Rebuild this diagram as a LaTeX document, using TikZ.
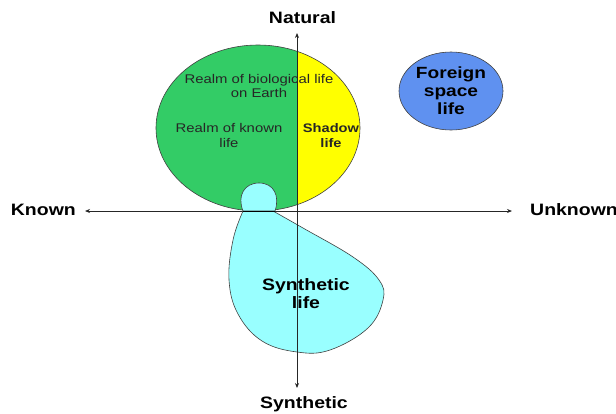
\documentclass[tikz,border=0pt]{standalone}
\usepackage{fontspec}
\setmainfont[FakeStretch=1.18]{Liberation Sans}
\usetikzlibrary{arrows.meta}
\definecolor{realmgreen}{RGB}{51,204,102}
\definecolor{shadowyellow}{RGB}{255,255,0}
\definecolor{synthcyan}{RGB}{153,255,255}
\definecolor{foreignblue}{RGB}{95,145,240}
\tikzset{
  axis/.style={draw=black!85, line width=0.8pt, -{Stealth[length=5pt,width=4pt]}},
  axislabel/.style={font=\bfseries\fontsize{16.5}{18}\selectfont, inner sep=0pt},
  realmtext/.style={font=\fontsize{12.6}{14.5}\selectfont, align=center, inner sep=0pt, text=black!85},
  bigtext/.style={font=\bfseries\fontsize{16.5}{18}\selectfont, align=center, inner sep=0pt},
  shape outline/.style={draw=black!75, line width=0.6pt}
}
\begin{document}
\begin{tikzpicture}[x=1pt,y=-1pt]
\useasboundingbox (0,0) rectangle (616,413);
% Big realm ellipse
\begin{scope}
  \clip (258,128) ellipse [x radius=102, y radius=83];
  \fill[realmgreen] (150,40) rectangle (297,220);
  \fill[shadowyellow] (297,40) rectangle (370,220);
\end{scope}
\draw[shape outline] (258,128) ellipse [x radius=102, y radius=83];
% Foreign space life
\filldraw[fill=foreignblue, shape outline] (451,91) ellipse [x radius=52, y radius=39];
\node[bigtext, font=\bfseries\fontsize{16.2}{18}\selectfont] (foreign) at (451,91) {Foreign\\space\\life};
% Horizontal axis
\coordinate (hl) at (85,211);
\coordinate (hr) at (512,211);
\coordinate (hc) at (297,211);
\draw[axis] (hc) -- (hl);
\draw[axis] (hc) -- (hr);
% Synthetic blob
\filldraw[fill=synthcyan, shape outline]
  plot[smooth, tension=0.65] coordinates {(273,211) (303,228) (353,257) (379,280) (383,300) (368,328) (330,350) (297,352) (262,341) (238,314) (229,280) (233,240) (243,211)} -- cycle;
\filldraw[fill=synthcyan, shape outline] (243,211) .. controls (237,196) and (244,183) .. (259,183) .. controls (274,183) and (280,196) .. (275,211) -- cycle;
\draw[black, line width=1pt] (243,211) -- (275,211);
% Texts inside the realm
\node[realmtext] (bio) at (259,86) {Realm of biological life\\on Earth};
\node[realmtext] (known) at (229,135.5) {Realm of known\\life};
\node[realmtext, font=\bfseries\fontsize{12.4}{14.5}\selectfont] (shadow) at (331,135.5) {Shadow\\life};
\node[bigtext] (synth) at (306,294) {Synthetic\\life};
% Vertical axis
\coordinate (vc) at (297,211);
\coordinate (vt) at (297,33);
\coordinate (vb) at (297,388);
\draw[axis] (vc) -- (vt);
\draw[axis] (vc) -- (vb);
% Axis labels
\node[axislabel] (natural) at (302.5,18) {Natural};
\node[axislabel] (synthetic) at (304,404) {Synthetic};
\node[axislabel, anchor=east] (knownlbl) at (76,210) {Known};
\node[axislabel, anchor=west] (unknownlbl) at (530,210) {Unknown};
\end{tikzpicture}
\end{document}
